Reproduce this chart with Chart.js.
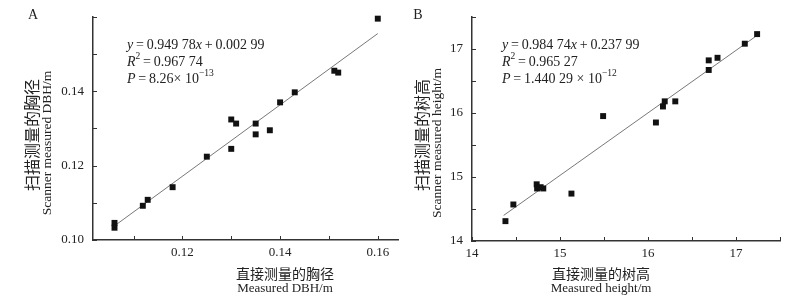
<!DOCTYPE html>
<html lang="zh">
<head>
<meta charset="UTF-8">
<title>扫描测量与直接测量对比</title>
<script src="https://cdn.jsdelivr.net/npm/chart.js"></script>
<style>
  body { margin: 0; background: #fff; }
  .panel { position: absolute; top: 0; height: 304px; }
  #panelA { left: 0; width: 403px; }
  #panelB { left: 403px; width: 404px; }
</style>
</head>
<body>
<div class="panel" id="panelA"><canvas id="chartA"></canvas></div>
<div class="panel" id="panelB"><canvas id="chartB"></canvas></div>
<script>
  // A - DBH (m)
  const dbhMeasured = [0.1061, 0.1061, 0.1119, 0.1129, 0.118, 0.125, 0.130, 0.130, 0.131, 0.135, 0.135, 0.1379, 0.140, 0.143, 0.1511, 0.1519, 0.160];
  const dbhScanned  = [0.1046, 0.1033, 0.1092, 0.1108, 0.1142, 0.1224, 0.1245, 0.1324, 0.1313, 0.1313, 0.1284, 0.1295, 0.137, 0.1397, 0.1455, 0.145, 0.1595];
  const dbhFitX = [0.1061, 0.1600];
  const dbhFitY = [0.1038, 0.1555];
  const dbhTicksX = [0.11, 0.12, 0.13, 0.14, 0.15, 0.16];
  const dbhLabelsX = ['', '0.12', '', '0.14', '', '0.16'];
  const dbhTicksY = [0.10, 0.11, 0.12, 0.13, 0.14, 0.15, 0.16];
  const dbhLabelsY = ['0.10', '', '0.12', '', '0.14', '', ''];
  const dbhEquation = [
    [['y', 'i'], ['\u2009=\u20090.949 78'], ['x', 'i'], ['\u2009+\u20090.002 99']],
    [['R', 'i'], ['2', 's'], ['\u2009=\u20090.967 74']],
    [['P', 'i'], ['\u2009=\u20098.26× 10'], ['−13', 's']]
  ];

  // B - tree height (m)
  const hMeasured = [14.38, 14.47, 14.735, 14.74, 14.78, 14.81, 15.13, 15.49, 16.09, 16.17, 16.19, 16.31, 16.69, 16.69, 16.79, 17.10, 17.24];
  const hScanned  = [14.31, 14.57, 14.885, 14.82, 14.84, 14.82, 14.74, 15.95, 15.85, 16.10, 16.18, 16.18, 16.67, 16.82, 16.86, 17.08, 17.23];
  const hFitX = [14.36, 17.24];
  const hFitY = [14.40, 17.21];
  const hTicksX = [14, 14.5, 15, 15.5, 16, 16.5, 17, 17.5];
  const hLabelsX = ['14', '', '15', '', '16', '', '17', ''];
  const hTicksY = [14, 14.5, 15, 15.5, 16, 16.5, 17, 17.5];
  const hLabelsY = ['14', '', '15', '', '16', '', '17', ''];
  const hEquation = [
    [['y', 'i'], ['\u2009=\u20090.984 74'], ['x', 'i'], ['\u2009+\u20090.237 99']],
    [['R', 'i'], ['2', 's'], ['\u2009=\u20090.965 27']],
    [['P', 'i'], ['\u2009=\u20091.440 29 × 10'], ['−12', 's']]
  ];

  const SERIF = '"Liberation Serif", "Times New Roman", serif';
  const CJK = '"Noto Sans CJK SC", sans-serif';
  const INK = '#222';

  function richLine(ctx, x, y, segs, size) {
    // draw one line made of plain / italic / superscript pieces
    let cx = x;
    segs.forEach(([t, st]) => {
      const sz = st === 's' ? size * 0.68 : size;
      ctx.font = (st === 'i' ? 'italic ' : '') + sz + 'px ' + SERIF;
      ctx.fillText(t, cx, st === 's' ? y - size * 0.38 : y);
      cx += ctx.measureText(t).width;
    });
  }

  const decoPlugin = {
    id: 'deco',
    afterDraw(chart, args, o) {
      const ctx = chart.ctx, a = chart.chartArea;
      const sx = chart.scales.x, sy = chart.scales.y;
      ctx.save();
      // inward tick marks
      ctx.strokeStyle = '#333';
      ctx.lineWidth = 1;
      sx.ticks.forEach(t => {
        const p = Math.round(sx.getPixelForValue(t.value)) + 0.5;
        ctx.beginPath(); ctx.moveTo(p, a.bottom); ctx.lineTo(p, a.bottom - 4); ctx.stroke();
      });
      sy.ticks.forEach(t => {
        const p = Math.round(sy.getPixelForValue(t.value)) + 0.5;
        ctx.beginPath(); ctx.moveTo(a.left, p); ctx.lineTo(a.left + 4, p); ctx.stroke();
      });

      ctx.fillStyle = INK;
      ctx.textBaseline = 'middle';
      // panel letter
      ctx.textAlign = 'center';
      ctx.font = '14px ' + SERIF;
      ctx.fillText(o.letter, o.letterX, o.letterY);

      // equation block
      ctx.textAlign = 'left';
      o.eq.forEach((segs, i) => richLine(ctx, o.eqX, o.eqY + i * 17, segs, 14));

      // x title
      ctx.textAlign = 'center';
      ctx.font = '14px ' + CJK;
      ctx.fillText(o.xTitle[0], o.xTitleX, 274);
      ctx.font = '13px ' + SERIF;
      ctx.fillText(o.xTitle[1], o.xTitleX, 289);

      // y title (rotated)
      ctx.save();
      ctx.translate(o.yTitleX[0], 135);
      ctx.rotate(-Math.PI / 2);
      ctx.font = '16px ' + CJK;
      ctx.fillText(o.yTitle[0], 0, 0);
      ctx.restore();
      ctx.save();
      ctx.translate(o.yTitleX[1], 143);
      ctx.rotate(-Math.PI / 2);
      ctx.font = '13.5px ' + SERIF;
      ctx.fillText(o.yTitle[1], 0, 0);
      ctx.restore();

      ctx.restore();
    }
  };

  function axis(min, max, ticks, labels, isX, size, pad) {
    return {
      type: 'linear',
      min: min,
      max: max,
      afterBuildTicks: s => { s.ticks = ticks.map(v => ({ value: v })); },
      afterFit: s => { if (isX) s.height = size; else s.width = size; },
      grid: { display: false, drawTicks: false },
      border: { display: true, color: '#333', width: 1.5 },
      ticks: {
        autoSkip: false,
        maxRotation: 0,
        padding: pad,
        color: INK,
        font: { family: SERIF, size: 13 },
        callback: (v, i) => labels[i]
      }
    };
  }

  function makeChart(id, cfg) {
    const pts = cfg.xs.map((x, i) => ({ x: x, y: cfg.ys[i] }));
    const fit = cfg.fitX.map((x, i) => ({ x: x, y: cfg.fitY[i] }));
    return new Chart(document.getElementById(id), {
      type: 'scatter',
      data: {
        datasets: [
          { data: pts, pointStyle: 'rect', pointRadius: 4.2, backgroundColor: '#111', borderWidth: 0, clip: false },
          { data: fit, showLine: true, borderColor: '#555', borderWidth: 0.8, pointRadius: 0 }
        ]
      },
      options: {
        responsive: true,
        maintainAspectRatio: false,
        animation: false,
        layout: { padding: cfg.padding },
        scales: {
          x: axis(cfg.xMin, cfg.xMax, cfg.ticksX, cfg.labelsX, true, cfg.xSize, 5),
          y: axis(cfg.yMin, cfg.yMax, cfg.ticksY, cfg.labelsY, false, cfg.ySize, 9)
        },
        plugins: {
          legend: { display: false },
          tooltip: { enabled: false },
          deco: cfg.deco
        }
      },
      plugins: [decoPlugin]
    });
  }

  makeChart('chartA', {
    xs: dbhMeasured, ys: dbhScanned, fitX: dbhFitX, fitY: dbhFitY,
    xMin: 0.1017, xMax: 0.1643, yMin: 0.10, yMax: 0.16,
    ticksX: dbhTicksX, labelsX: dbhLabelsX, ticksY: dbhTicksY, labelsY: dbhLabelsY,
    padding: { left: 0, top: 13, right: 2, bottom: 0 },
    xSize: 64, ySize: 93,
    deco: {
      letter: 'A', letterX: 33, letterY: 15,
      eq: dbhEquation, eqX: 127, eqY: 45,
      xTitle: ['直接测量的胸径', 'Measured DBH/m'], xTitleX: 285,
      yTitle: ['扫描测量的胸径', 'Scanner measured DBH/m'], yTitleX: [32, 47]
    }
  });

  makeChart('chartB', {
    xs: hMeasured, ys: hScanned, fitX: hFitX, fitY: hFitY,
    xMin: 14, xMax: 17.5, yMin: 14, yMax: 17.5,
    ticksX: hTicksX, labelsX: hLabelsX, ticksY: hTicksY, labelsY: hLabelsY,
    padding: { left: 0, top: 14, right: 27, bottom: 0 },
    xSize: 63, ySize: 69,
    deco: {
      letter: 'B', letterX: 15, letterY: 15,
      eq: hEquation, eqX: 99, eqY: 45,
      xTitle: ['直接测量的树高', 'Measured height/m'], xTitleX: 198,
      yTitle: ['扫描测量的树高', 'Scanner measured height/m'], yTitleX: [19, 34]
    }
  });
</script>
</body>
</html>
